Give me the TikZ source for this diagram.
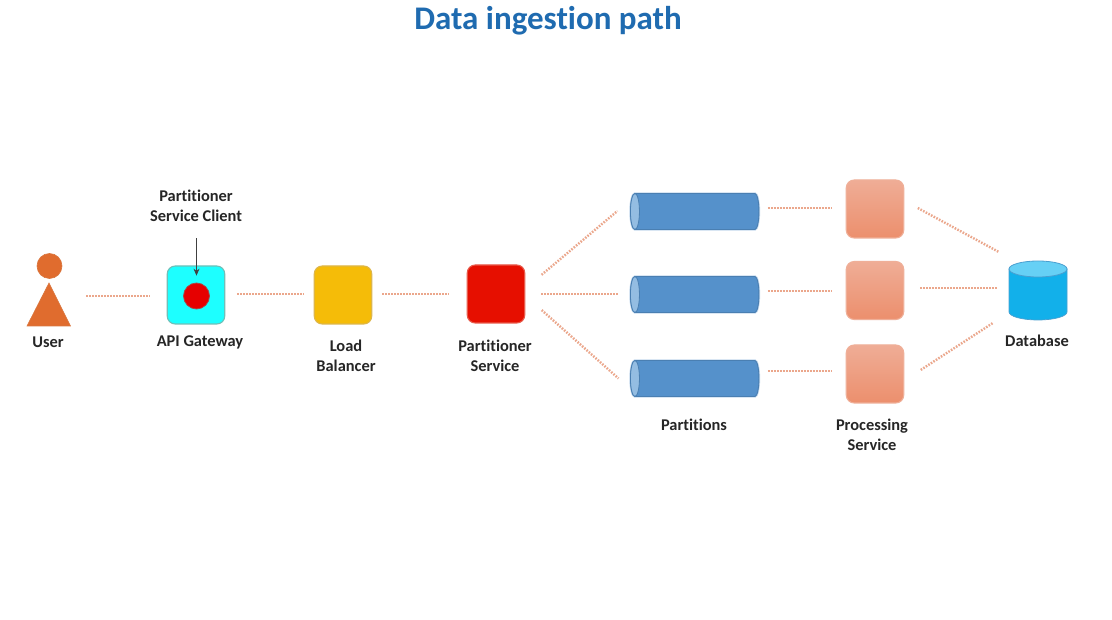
\documentclass[tikz,border=0pt]{standalone}
\usepackage{fontspec}
\usetikzlibrary{arrows.meta}
\setmainfont{Carlito}[Ligatures=NoCommon]
\definecolor{lbl}{HTML}{262626}
\definecolor{ttl}{HTML}{1F6BB0}
\definecolor{dotc}{HTML}{EBA78C}
\definecolor{usr}{HTML}{E06C2E}
\definecolor{usrb}{HTML}{D9773F}
\definecolor{pbody}{HTML}{5591CB}
\definecolor{pedge}{HTML}{4A7FB2}
\definecolor{pcap}{HTML}{94BDE2}
\definecolor{phalo}{HTML}{C5DAEE}
\definecolor{dbbody}{HTML}{12B0EA}
\definecolor{dbtop}{HTML}{66D0F5}
\definecolor{dbedge}{HTML}{4A9FD0}
\definecolor{procb}{HTML}{EFAF98}
\definecolor{proct}{HTML}{EFAD96}
\definecolor{procd}{HTML}{EC8F6D}
\definecolor{gwb}{HTML}{6FBFB8}
\definecolor{gwf}{HTML}{1DFFFF}
\definecolor{rc}{HTML}{E60000}
\definecolor{rcb}{HTML}{A84848}
\definecolor{lbb}{HTML}{DDB64A}
\definecolor{lbf}{HTML}{F5BC08}
\definecolor{psb}{HTML}{E85A4A}
\definecolor{psf}{HTML}{E60F00}
\newcommand\partcyl[1]{%
  \path[fill=pbody,draw=pedge,line width=0.9pt,preaction={draw=phalo,line width=2.4pt}]
    ([xshift=4.5pt]#1.north west) -- ([xshift=-4pt]#1.north east)
    arc[start angle=90,end angle=-90,x radius=4pt,y radius=18pt]
    -- ([xshift=4.5pt]#1.south west)
    arc[start angle=270,end angle=90,x radius=4.5pt,y radius=18pt] -- cycle;
  \path[fill=pcap,draw=pedge,line width=0.8pt] ([xshift=4.5pt]#1.west) ellipse[x radius=4.5pt,y radius=18pt];
}
\tikzset{
  txt/.style={font=\fontsize{16.4}{20.5}\selectfont\bfseries,text=lbl,align=center,inner sep=0pt},
  anchorbox/.style={inner sep=0pt,outer sep=0pt,minimum width=#1},
  square/.style={rectangle,rounded corners=8pt,minimum width=57.5pt,minimum height=58pt,inner sep=0pt,outer sep=0pt,line width=1.1pt},
  procbox/.style={square,draw=procb,top color=proct,bottom color=procd},
  dotline/.style={draw=dotc,line width=2.4pt,dash pattern=on 1.6pt off 1.4pt},
}
\begin{document}
\begin{tikzpicture}[x=1pt,y=-1pt]
\useasboundingbox (0,0) rectangle (1112,620);
\fill[white] (0,0) rectangle (1112,620);

\node[font=\fontsize{33}{38}\selectfont\bfseries,text=ttl,inner sep=0pt] (title) at (548,20.5) {Data ingestion path};

% user
\node[anchorbox=44pt,minimum height=60pt] (user) at (49,296) {};
\fill[usr,draw=usrb,line width=0.6pt] (49.5,266) circle (12.5pt);
\fill[usr,draw=usrb,line width=0.6pt] (49,283) -- (70.5,326) -- (27,326) -- cycle;
\node[txt] (userl) at (48,342.5) {User};

% gateway
\node[square,draw=gwb,fill=gwf] (gw) at (196,295) {};
\node[circle,minimum size=26pt,inner sep=0pt,fill=rc,draw=rcb,line width=0.8pt] (rc) at (196.5,296) {};
\node[txt] (gwl) at (200,342.5) {API Gateway};
\node[txt] (client) at (196,206) {Partitioner\\Service Client};
\draw[-{Stealth[length=7pt,width=6pt]},black!75,line width=0.8pt,shorten <=16pt,shorten >=7pt] (client.south -| rc) -- (rc);

% load balancer, partitioner
\node[square,draw=lbb,fill=lbf] (lb) at (343,295) {};
\node[txt] (lbl) at (346,356) {Load\\Balancer};
\node[square,draw=psb,fill=psf] (ps) at (496,294) {};
\node[txt] (psl) at (495,356) {Partitioner\\Service};

% partitions
\node[anchorbox=128.5pt,minimum height=36pt] (p1) at (694.7,211.5) {};
\node[anchorbox=128.5pt,minimum height=36pt] (p2) at (694.7,294.5) {};
\node[anchorbox=128.5pt,minimum height=36pt] (p3) at (694.7,378.5) {};
\partcyl{p1}\partcyl{p2}\partcyl{p3}
\node[txt] (pl) at (694,424.5) {Partitions};

% processing
\node[procbox] (s1) at (875,209) {};
\node[procbox] (s2) at (875,290.5) {};
\node[procbox] (s3) at (875,374) {};
\node[txt] (sl) at (872,435) {Processing\\Service};

% database
\node[anchorbox=58pt,minimum height=59pt] (db) at (1038,290.5) {};
\path[fill=dbbody,draw=dbedge,line width=0.7pt] (1009,269) -- (1009,312) arc[start angle=180,end angle=360,x radius=29pt,y radius=8pt] -- (1067,269) -- cycle;
\path[fill=dbtop,draw=dbedge,line width=0.8pt] (1038,269) ellipse[x radius=29pt,y radius=8pt];
\node[txt] (dbl) at (1037,340.5) {Database};

% connectors
\draw[dotline,shorten <=15pt,shorten >=17pt] (user.east) -- (user.east -| gw.west);
\draw[dotline,shorten <=12.25pt,shorten >=11pt] ([yshift=0.7pt]gw.east) -- ([yshift=0.7pt]gw.east -| lb.west);
\draw[dotline,shorten <=10.25pt,shorten >=18pt] ([yshift=0.7pt]lb.east) -- ([yshift=0.7pt]lb.east -| ps.west);
\draw[dotline,shorten <=22pt,shorten >=17pt] ([yshift=5pt]ps.east) -- ([yshift=11.5pt]p1.west);
\draw[dotline,shorten <=16.25pt,shorten >=12pt] ([yshift=-0.3pt]ps.east) -- ([yshift=-0.3pt]ps.east -| p2.west);
\draw[dotline,shorten <=22.7pt,shorten >=16pt] ([yshift=-1pt]ps.east) -- ([yshift=-10.6pt]p3.west);
\draw[dotline,shorten <=9pt,shorten >=15pt] ([yshift=3.5pt]p1.east) -- ([yshift=3.5pt]p1.east -| s1.west);
\draw[dotline,shorten <=9pt,shorten >=15pt] ([yshift=3.5pt]p2.east) -- ([yshift=3.5pt]p2.east -| s2.west);
\draw[dotline,shorten <=9pt,shorten >=15pt] ([yshift=7.5pt]p3.east) -- ([yshift=7.5pt]p3.east -| s3.west);
\draw[dotline,shorten <=16pt,shorten >=11.4pt] ([yshift=8.6pt]s1.east) -- ([yshift=33pt]db.west);
\draw[dotline,shorten <=16.25pt,shorten >=12pt] ([yshift=2.2pt]s2.east) -- ([yshift=2.2pt]s2.east -| db.west);
\draw[dotline,shorten <=20.3pt,shorten >=19pt] ([yshift=-7pt]s3.east) -- ([yshift=-22pt]db.west);
\end{tikzpicture}
\end{document}
